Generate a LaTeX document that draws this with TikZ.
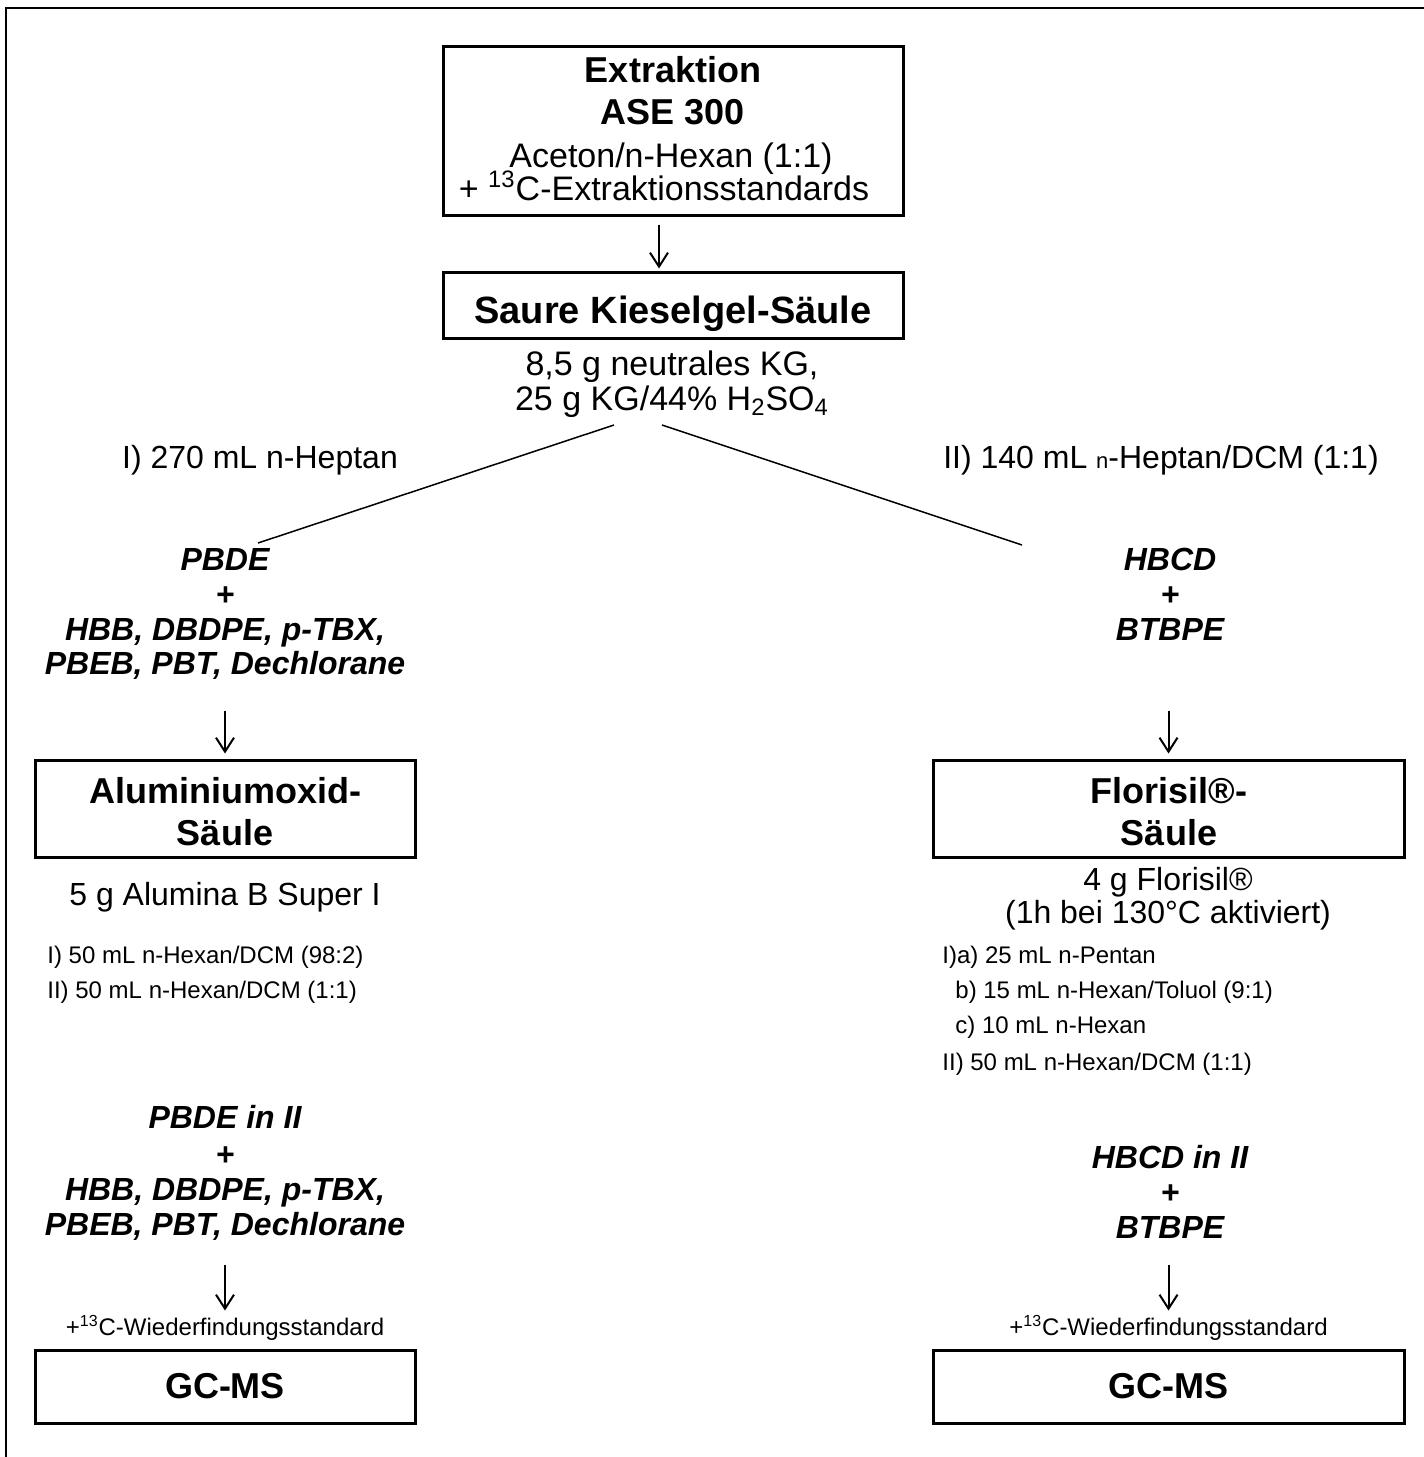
\documentclass[tikz,border=0pt]{standalone}
\usepackage{fontspec}
\setmainfont{Liberation Sans}
\usetikzlibrary{arrows.meta}
\newcommand\smalln{{\fontsize{11}{11}\selectfont n}}
\begin{document}
\begin{tikzpicture}[x=0.5pt,y=-0.5pt,
  bx/.style={draw, line width=1.5pt, inner sep=0pt},
  t/.style={inner sep=0pt, anchor=base},
  fb/.style={t, font=\fontsize{18}{21}\selectfont\bfseries},
  fr/.style={t, font=\fontsize{16}{19}\selectfont},
  frl/.style={t, font=\fontsize{17}{20}\selectfont},
  fbi/.style={t, font=\fontsize{16}{19}\selectfont\bfseries\itshape},
  fs/.style={t, font=\fontsize{12}{14}\selectfont},
  fsl/.style={fs, anchor=base west},
  arr/.style={line width=1pt, -{Straight Barb[length=7pt,width=9pt,line width=1pt]}},
  link/.style={line width=0.75pt}]
\useasboundingbox (0,0) rectangle (1424,1457);
% frame
\draw[line width=1pt] (6,1457) -- (6,7.3);
\draw[line width=1.35pt] (5.5,8) -- (1424,8);

% top box
\node[bx, minimum width=230pt, minimum height=84.5pt] (ext) at (673,130.5) {};
\node[fb] (extA) at (673,82) {Extraktion};
\node[fb] (extB) at (673,124) {ASE 300};
\node[frl] (extC) at (671,167) {Aceton/n-Hexan (1:1)};
\node[frl] (extD) at (664,200) {+ \textsuperscript{13}C-Extraktionsstandards};

% second box
\node[bx, minimum width=230pt, minimum height=33pt] (kg) at (673,305) {};
\node[fb, font=\fontsize{19}{22}\selectfont\bfseries] (kgT) at (673,323) {Saure Kieselgel-Säule};
\draw[arr] ([xshift=-7pt,yshift=-4pt]ext.south) -- ([xshift=-7pt,yshift=1pt]kg.north);

\node[t, font=\fontsize{17}{20}\selectfont] (kgA) at (672,375) {8,5 g neutrales KG,};
\node[t, font=\fontsize{17}{20}\selectfont] (kgB) at (672,410) {25 g KG/44\% H\textsubscript{2}SO\textsubscript{4}};

% split
\coordinate (splitL) at (614,425);
\coordinate (splitR) at (662,425);
\coordinate (endL) at (258,543);
\coordinate (endR) at (1022,545);
\draw[link] (splitL) -- (endL);
\draw[link] (splitR) -- (endR);
\node[fr] (hepL) at (260,468) {I) 270 mL n-Heptan};
\node[fr] (hepR) at (1161,468) {II) 140 mL \smalln-Heptan/DCM (1:1)};

% left branch
\node[fbi] (lg1) at (225,570) {PBDE};
\node[fbi] (lg2) at (225,605) {+};
\node[fbi] (lg3) at (225,640) {HBB, DBDPE, p-TBX,};
\node[fbi] (lg4) at (225,674) {PBEB, PBT, Dechlorane};

\node[bx, minimum width=190pt, minimum height=48.5pt] (al) at (225,808.5) {};
\node[fb] (alA) at (225,803) {Aluminiumoxid-};
\node[fb] (alB) at (225,845) {Säule};
\draw[arr] ([yshift=24pt]al.north) -- ([yshift=2.5pt]al.north);

\node[fr] (alC) at (225,905) {5 g Alumina B Super I};
\node[fsl] (alD) at (47,963) {I) 50 mL n-Hexan/DCM (98:2)};
\node[fsl] (alE) at (47,998) {II) 50 mL n-Hexan/DCM (1:1)};

\node[fbi] (ll1) at (225,1128) {PBDE in II};
\node[fbi] (ll2) at (225,1165) {+};
\node[fbi] (ll3) at (225,1200) {HBB, DBDPE, p-TBX,};
\node[fbi] (ll4) at (225,1235) {PBEB, PBT, Dechlorane};

\node[bx, minimum width=190pt, minimum height=36.5pt] (gcL) at (225,1386.5) {};
\node[fb] (gcLt) at (225,1398) {GC-MS};
\node[fs] (wdL) at (225,1335) {+\textsuperscript{13}C-Wiederfindungsstandard};
\draw[arr] ([yshift=42pt]gcL.north) -- ([yshift=19pt]gcL.north);

% right branch
\node[fbi] (rg1) at (1170,570) {HBCD};
\node[fbi] (rg2) at (1170,605) {+};
\node[fbi] (rg3) at (1170,640) {BTBPE};

\node[bx, minimum width=235.5pt, minimum height=48.5pt] (fl) at (1168.5,808.5) {};
\node[fb] (flA) at (1169,803) {Florisil®-};
\node[fb] (flB) at (1169,845) {Säule};
\draw[arr] ([yshift=24pt]fl.north) -- ([yshift=2.5pt]fl.north);

\node[fr] (flC) at (1168,890) {4 g Florisil®};
\node[fr] (flD) at (1168,923) {(1h bei 130°C aktiviert)};
\node[fsl] (flE) at (942,963) {I)a) 25 mL n-Pentan};
\node[fsl] (flF) at (955,998) {b) 15 mL n-Hexan/Toluol (9:1)};
\node[fsl] (flG) at (955,1033) {c) 10 mL n-Hexan};
\node[fsl] (flH) at (942,1070) {II) 50 mL n-Hexan/DCM (1:1)};

\node[fbi] (lr1) at (1170,1168) {HBCD in II};
\node[fbi] (lr2) at (1170,1203) {+};
\node[fbi] (lr3) at (1170,1238) {BTBPE};

\node[bx, minimum width=235.5pt, minimum height=36.5pt] (gcR) at (1168.5,1386.5) {};
\node[fb] (gcRt) at (1168.5,1398) {GC-MS};
\node[fs] (wdR) at (1168.5,1335) {+\textsuperscript{13}C-Wiederfindungsstandard};
\draw[arr] ([yshift=42pt]gcR.north) -- ([yshift=19pt]gcR.north);
\end{tikzpicture}
\end{document}
